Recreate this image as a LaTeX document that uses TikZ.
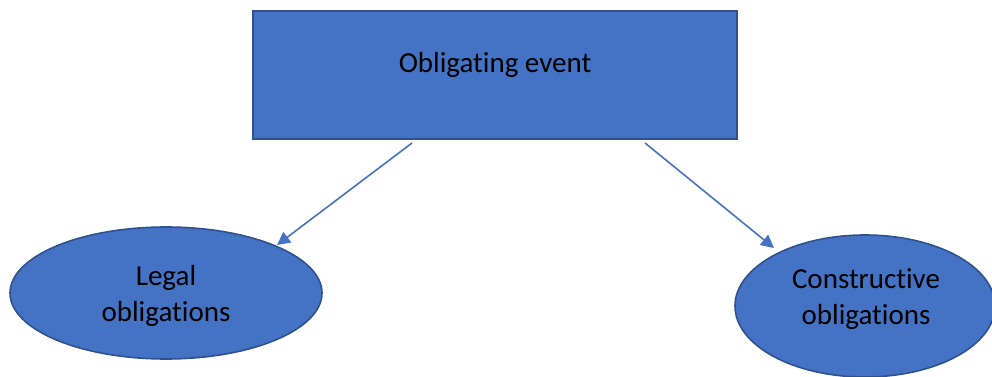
\documentclass[tikz,border=0pt]{standalone}
\usepackage{fontspec}
\setmainfont[Ligatures=NoCommon]{Carlito}
\usetikzlibrary{arrows.meta}
\definecolor{accent}{HTML}{4472C4}
\definecolor{accentdark}{HTML}{2F528F}
\begin{document}
\begin{tikzpicture}[x=1pt,y=-1pt,
  shapebox/.style={fill=accent,draw=accentdark,line width=1.6pt},
  label/.style={font=\fontsize{29}{36}\selectfont,align=center,text=black},
  link/.style={draw=accent,line width=1.6pt,-{Triangle[length=13pt,width=13pt]}}]
\useasboundingbox (0,0) rectangle (992,377);
\begin{scope}
\clip (0,0) rectangle (992,377);
% top box
\draw[shapebox] (253,11) rectangle (737,139);
\node[label] (event) at (495,65) {Obligating event};
% the two obligation ellipses
\draw[shapebox] (166,293) ellipse [x radius=156, y radius=66];
\node[label] (legal) at (166,296) {Legal\\obligations};
\draw[shapebox] (865,306) ellipse [x radius=130, y radius=71];
\node[label] (constr) at (866,299) {Constructive\\obligations};
% connectors
\coordinate (s1) at (412,143);
\coordinate (t1) at (277,245);
\coordinate (s2) at (645,143);
\coordinate (t2) at (774,248);
\draw[link] (s1) -- (t1);
\draw[link] (s2) -- (t2);
\end{scope}
\end{tikzpicture}
\end{document}
